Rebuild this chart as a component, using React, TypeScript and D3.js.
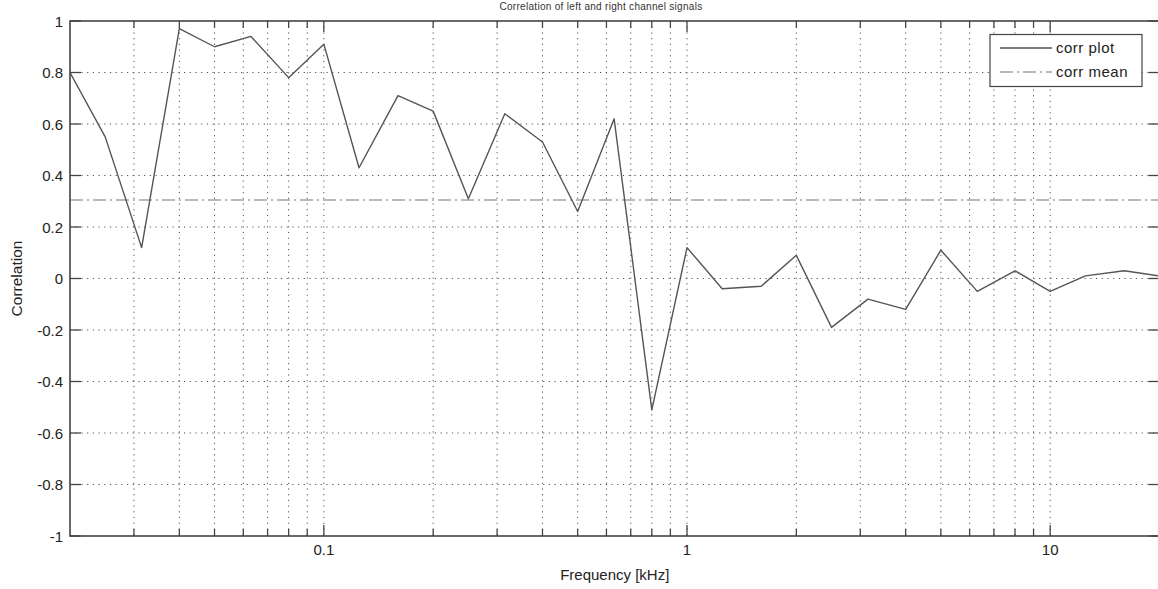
import React from "react";
import * as d3 from "d3";

// 1/3-octave band centre frequencies in kHz
const freqs = [
  0.02, 0.025, 0.0315, 0.04, 0.05, 0.063, 0.08, 0.1, 0.125, 0.16, 0.2, 0.25,
  0.315, 0.4, 0.5, 0.63, 0.8, 1, 1.25, 1.6, 2, 2.5, 3.15, 4, 5, 6.3, 8, 10,
  12.5, 16, 20,
];

// correlation per band
const corr = [
  0.8, 0.55, 0.12, 0.97, 0.9, 0.94, 0.78, 0.91, 0.43, 0.71, 0.65, 0.31, 0.64,
  0.53, 0.26, 0.62, -0.51, 0.12, -0.04, -0.03, 0.09, -0.19, -0.08, -0.12,
  0.11, -0.05, 0.03, -0.05, 0.01, 0.03, 0.01,
];

const yTicks = [-1, -0.8, -0.6, -0.4, -0.2, 0, 0.2, 0.4, 0.6, 0.8, 1];
const yTickLabels = ["-1", "-0.8", "-0.6", "-0.4", "-0.2", "0", "0.2", "0.4", "0.6", "0.8", "1"];
const xMajor = [0.1, 1, 10];
const xMajorLabels = ["0.1", "1", "10"];
const legendLabels = ["corr plot", "corr mean"];
const titleText = "Correlation of left and right channel signals";

const W = 1158;
const H = 589;
const left = 70;
const right = 1159.5;
const top = 21;
const bottom = 536;

const FONT = "'Liberation Sans', Arial, Helvetica, sans-serif";
const AXIS = "#444";
const GRID = "#555";

export default function App() {
  const x = d3.scaleLog().domain([0.02, 20]).range([left, right]);
  const y = d3.scaleLinear().domain([-1, 1]).range([bottom, top]);

  const allX = x.ticks().filter((t) => t > 0.02 && t < 20);
  const isMajor = (t: number) => Math.abs(Math.log10(t) - Math.round(Math.log10(t))) < 1e-9;

  const pts: [number, number][] = freqs.map((f, i) => [f, corr[i]]);
  const line = d3
    .line<[number, number]>()
    .x((d) => x(d[0]))
    .y((d) => y(d[1]));
  const meanVal = d3.mean(corr) as number;

  const majorLen = 11;
  const minorLen = 7;

  return (
    <svg
      width={W}
      height={H}
      style={{ position: "fixed", left: 0, top: 0, background: "#fff" }}
      fontFamily={FONT}
    >
      <defs>
        <clipPath id="plotClip">
          <rect x={left} y={top} width={right - left} height={bottom - top} />
        </clipPath>
      </defs>
      <rect x={0} y={0} width={W} height={H} fill="#fff" />

      <text
        x={601}
        y={10}
        textAnchor="middle"
        fontSize={10}
        fill="#333"
        letterSpacing={0.3}
      >
        {titleText}
      </text>

      {/* grid */}
      <g stroke={GRID} strokeWidth={1} strokeDasharray="1.2,4.5" fill="none">
        {allX.map((t) => (
          <line key={"gx" + t} x1={x(t)} x2={x(t)} y1={top} y2={bottom} />
        ))}
        {yTicks
          .filter((t) => t > -1 && t < 1)
          .map((t) => (
            <line key={"gy" + t} x1={left} x2={right} y1={y(t)} y2={y(t)} />
          ))}
      </g>

      {/* ticks on all four sides */}
      <g stroke={AXIS} strokeWidth={1.3}>
        {allX.map((t) => {
          const len = isMajor(t) ? majorLen : minorLen;
          return (
            <g key={"tx" + t}>
              <line x1={x(t)} x2={x(t)} y1={bottom} y2={bottom - len} />
              <line x1={x(t)} x2={x(t)} y1={top} y2={top + len} />
            </g>
          );
        })}
        {yTicks.map((t) => (
          <g key={"ty" + t}>
            <line x1={left} x2={left + majorLen} y1={y(t)} y2={y(t)} />
            <line x1={right} x2={right - majorLen} y1={y(t)} y2={y(t)} />
          </g>
        ))}
      </g>

      {/* data */}
      <g clipPath="url(#plotClip)">
        <line
          x1={left}
          x2={right}
          y1={y(meanVal)}
          y2={y(meanVal)}
          stroke="#777"
          strokeWidth={1.2}
          strokeDasharray="13,4,2,4"
        />
        <path d={line(pts) || ""} fill="none" stroke="#555" strokeWidth={1.4} strokeLinejoin="round" />
      </g>

      {/* axes box */}
      <rect
        x={left}
        y={top}
        width={right - left}
        height={bottom - top}
        fill="none"
        stroke={AXIS}
        strokeWidth={1.6}
      />

      {/* tick labels */}
      <g fontSize={15} fill="#222">
        {yTicks.map((t, i) => (
          <text key={"ly" + t} x={63} y={y(t) + 5.5} textAnchor="end">
            {yTickLabels[i]}
          </text>
        ))}
        {xMajor.map((t, i) => (
          <text key={"lx" + t} x={x(t)} y={555} textAnchor="middle">
            {xMajorLabels[i]}
          </text>
        ))}
      </g>

      {/* axis titles */}
      <text x={(left + right) / 2} y={580} textAnchor="middle" fontSize={15} fill="#222">
        Frequency [kHz]
      </text>
      <text
        transform={`translate(22, ${(top + bottom) / 2}) rotate(-90)`}
        textAnchor="middle"
        fontSize={15.5}
        fill="#222"
      >
        Correlation
      </text>

      {/* legend */}
      <g>
        <rect x={990} y={34.5} width={152} height={52} fill="#fff" stroke={AXIS} strokeWidth={1.2} />
        <line x1={1000} x2={1052} y1={48} y2={48} stroke="#555" strokeWidth={1.4} />
        <line
          x1={1000}
          x2={1052}
          y1={72}
          y2={72}
          stroke="#777"
          strokeWidth={1.2}
          strokeDasharray="13,4,2,4"
        />
        <text x={1056} y={53} fontSize={15} fill="#222" letterSpacing={0.5}>
          {legendLabels[0]}
        </text>
        <text x={1056} y={77} fontSize={15} fill="#222" letterSpacing={0.5}>
          {legendLabels[1]}
        </text>
      </g>
    </svg>
  );
}
